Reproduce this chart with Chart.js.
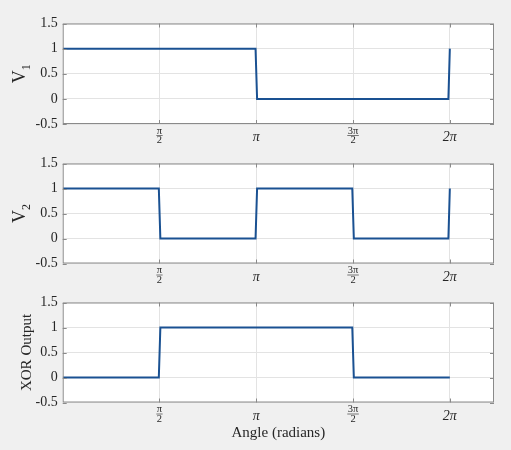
<!DOCTYPE html>
<html>
<head>
<meta charset="utf-8">
<script src="https://cdn.jsdelivr.net/npm/chart.js@4"></script>
<style>
  body { margin: 0; background: #f0f0f0; }
  #wrap { position: relative; width: 511px; height: 450px; }
  #wrap canvas { position: absolute; left: 0; top: 0; }
</style>
</head>
<body>
<div id="wrap">
  <canvas id="v1-chart" width="511" height="450"></canvas>
  <canvas id="v2-chart" width="511" height="450"></canvas>
  <canvas id="xor-chart" width="511" height="450"></canvas>
</div>
<script>
// Signal data (angle in radians, level)
var v1Angle = [0, 3.13, 3.155, 6.26, 6.2832];
var v1Value = [1, 1, 0, 0, 1];

var v2Angle = [0, 1.56, 1.585, 3.13, 3.155, 4.70, 4.725, 6.26, 6.2832];
var v2Value = [1, 1, 0, 0, 1, 1, 0, 0, 1];

var xorAngle = [0, 1.56, 1.585, 4.70, 4.725, 6.2832];
var xorValue = [0, 0, 1, 1, 0, 0];

// Axis ticks
var xTickValues = [1.5708, 3.1416, 4.7124, 6.2832];
var xTickLabels = ['π/2', 'π', '3π/2', '2π'];
var yTickValues = [-0.5, 0, 0.5, 1, 1.5];

var serif = '"Liberation Serif", "DejaVu Serif", serif';
var textColor = '#262626';
var boxColor = '#8a8a8a';
var gridColor = '#e3e3e3';
var lineColor = '#1a5192';

// White plot area, box, inner tick marks, pi tick labels and V_n titles
var axesBox = {
    id: 'axesBox',
    beforeDraw: function(chart) {
        var a = chart.chartArea;
        var ctx = chart.ctx;
        ctx.save();
        ctx.fillStyle = '#ffffff';
        ctx.fillRect(a.left, a.top, a.right - a.left, a.bottom - a.top);
        ctx.restore();
    },
    afterDraw: function(chart) {
        var a = chart.chartArea;
        var ctx = chart.ctx;
        var xs = chart.scales.x;
        var ys = chart.scales.y;
        ctx.save();
        ctx.strokeStyle = boxColor;
        ctx.lineWidth = 1;
        ctx.strokeRect(a.left + 0.5, a.top + 0.5, a.right - a.left - 1, a.bottom - a.top - 1);

        // little tick marks inside the box
        ctx.beginPath();
        xTickValues.forEach(function(v) {
            var x = Math.round(xs.getPixelForValue(v)) + 0.5;
            ctx.moveTo(x, a.bottom); ctx.lineTo(x, a.bottom - 4);
            ctx.moveTo(x, a.top); ctx.lineTo(x, a.top + 4);
        });
        yTickValues.forEach(function(v) {
            var y = Math.round(ys.getPixelForValue(v)) + 0.5;
            ctx.moveTo(a.left, y); ctx.lineTo(a.left + 4, y);
            ctx.moveTo(a.right, y); ctx.lineTo(a.right - 4, y);
        });
        ctx.stroke();

        // x tick labels, fractions stacked
        ctx.fillStyle = textColor;
        ctx.strokeStyle = textColor;
        ctx.textAlign = 'center';
        ctx.textBaseline = 'middle';
        xTickValues.forEach(function(v, i) {
            var x = xs.getPixelForValue(v);
            var lab = xTickLabels[i];
            if (lab.indexOf('/') >= 0) {
                var parts = lab.split('/');
                ctx.font = '10.5px ' + serif;
                ctx.fillText(parts[0], x, a.bottom + 7);
                ctx.fillText(parts[1], x, a.bottom + 16.5);
                var w = Math.max(ctx.measureText(parts[0]).width, ctx.measureText(parts[1]).width);
                ctx.lineWidth = 0.6;
                ctx.beginPath();
                ctx.moveTo(x - w / 2 - 0.5, a.bottom + 11.5);
                ctx.lineTo(x + w / 2 + 0.5, a.bottom + 11.5);
                ctx.stroke();
            } else {
                ctx.font = 'italic 14px ' + serif;
                ctx.fillText(lab, x, a.bottom + 13.5);
            }
        });

        // subscripted y title, e.g. V_1
        var sub = chart.options.plugins.axesBox.subTitle;
        if (sub) {
            var yc = (a.top + a.bottom) / 2;
            ctx.translate(25, yc);
            ctx.rotate(-Math.PI / 2);
            ctx.textAlign = 'left';
            ctx.textBaseline = 'alphabetic';
            ctx.font = '18px ' + serif;
            var w1 = ctx.measureText(sub[0]).width;
            ctx.font = '12px ' + serif;
            var w2 = ctx.measureText(sub[1]).width;
            var x0 = -(w1 + w2) / 2;
            ctx.font = '18px ' + serif;
            ctx.fillText(sub[0], x0, 0);
            ctx.font = '12px ' + serif;
            ctx.fillText(sub[1], x0 + w1, 5);
        }
        ctx.restore();
    }
};

function makeChart(canvasId, angles, values, yTitle, subTitle, plotTop, plotBottom, xTitle) {
    var points = [];
    for (var i = 0; i < angles.length; i++) {
        points.push({ x: angles[i], y: values[i] });
    }
    var xHeight = xTitle ? 40 : 0;

    return new Chart(document.getElementById(canvasId).getContext('2d'), {
        type: 'scatter',
        data: {
            datasets: [{
                data: points,
                showLine: true,
                borderColor: lineColor,
                borderWidth: 2,
                pointRadius: 0,
                fill: false
            }]
        },
        options: {
            responsive: false,
            animation: false,
            layout: {
                padding: { top: plotTop, bottom: 450 - plotBottom - xHeight, left: 0, right: 17 }
            },
            plugins: {
                legend: { display: false },
                tooltip: { enabled: false },
                axesBox: { subTitle: subTitle }
            },
            scales: {
                x: {
                    type: 'linear',
                    min: 0,
                    max: 7,
                    afterBuildTicks: function(scale) {
                        scale.ticks = xTickValues.map(function(v) { return { value: v }; });
                    },
                    afterFit: function(scale) { scale.height = xHeight; },
                    ticks: { display: false },
                    grid: { color: gridColor, drawTicks: false },
                    border: { display: false },
                    title: {
                        display: !!xTitle,
                        text: xTitle || '',
                        color: textColor,
                        font: { family: serif, size: 15 },
                        padding: { top: 0, bottom: 0 }
                    }
                },
                y: {
                    min: -0.5,
                    max: 1.5,
                    afterBuildTicks: function(scale) {
                        scale.ticks = yTickValues.map(function(v) { return { value: v }; });
                    },
                    afterFit: function(scale) { scale.width = 62.7; },
                    ticks: {
                        color: textColor,
                        padding: 5,
                        font: { family: serif, size: 14 },
                        callback: function(value) { return String(value); }
                    },
                    grid: { color: gridColor, drawTicks: false },
                    border: { display: false },
                    title: {
                        display: !!yTitle,
                        text: yTitle || '',
                        color: textColor,
                        font: { family: serif, size: 15 },
                        padding: { top: 18, bottom: 0 }
                    }
                }
            }
        },
        plugins: [axesBox]
    });
}

window.onload = function() {
    makeChart('v1-chart', v1Angle, v1Value, null, ['V', '1'], 23.5, 124, null);
    makeChart('v2-chart', v2Angle, v2Value, null, ['V', '2'], 163.5, 263.5, null);
    makeChart('xor-chart', xorAngle, xorValue, 'XOR Output', null, 302.5, 402.5, 'Angle (radians)');
};
</script>
</body>
</html>
